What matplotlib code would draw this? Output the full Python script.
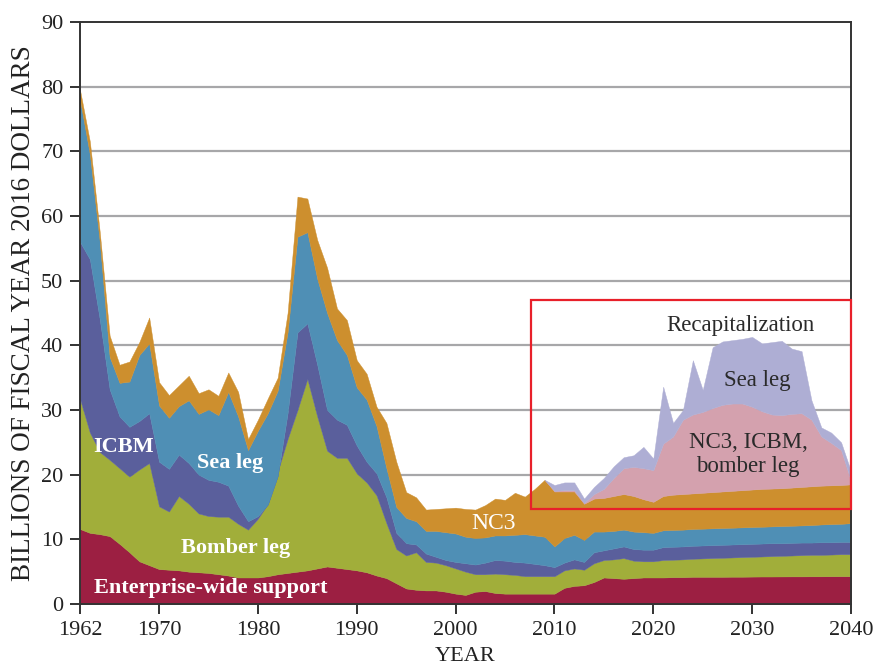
import matplotlib
matplotlib.use("Agg")
import matplotlib.pyplot as plt
from matplotlib.patches import Rectangle
import numpy as np

plt.rcParams['font.family'] = ['Liberation Serif', 'DejaVu Serif']

years = list(range(1962, 2041))

# cumulative top of each layer (billions FY2016 $)
enterprise_top = [11.6, 11.0, 10.8, 10.5, 9.3, 8.0, 6.6, 6.0, 5.4, 5.3,
                  5.2, 5.0, 4.9, 4.8, 4.6, 4.4, 4.1, 4.1, 4.1, 4.3,
                  4.6, 4.8, 5.0, 5.2, 5.5, 5.8, 5.6, 5.4, 5.2, 4.9,
                  4.4, 4.0, 3.2, 2.4, 2.2, 2.1, 2.1, 1.9, 1.6, 1.4,
                  1.9, 2.0, 1.7, 1.6, 1.6, 1.6, 1.6, 1.6, 1.6, 2.5,
                  2.8, 2.9, 3.4, 4.1, 4.0, 3.9, 4.0, 4.1, 4.1, 4.1,
                  4.15, 4.15, 4.2, 4.2, 4.2, 4.2, 4.22, 4.22, 4.24, 4.25,
                  4.25, 4.26, 4.27, 4.27, 4.28, 4.28, 4.29, 4.3, 4.3]
bomber_top = [31.7, 26.5, 23.5, 22.3, 21.0, 19.7, 20.8, 21.8, 15.1, 14.3,
              16.7, 15.5, 14.0, 13.6, 13.5, 13.5, 12.4, 11.5, 13.2, 15.5,
              20.5, 25.5, 30.0, 34.8, 29.0, 23.7, 22.6, 22.6, 20.2, 18.8,
              16.8, 12.5, 8.5, 7.5, 8.0, 6.5, 6.4, 6.0, 5.5, 5.0,
              4.6, 4.6, 4.7, 4.6, 4.5, 4.3, 4.3, 4.3, 4.3, 5.2,
              5.5, 5.3, 6.3, 6.8, 6.9, 7.1, 6.7, 6.6, 6.6, 6.8,
              6.85, 6.9, 7.0, 7.05, 7.1, 7.15, 7.2, 7.25, 7.3, 7.35,
              7.4, 7.45, 7.5, 7.55, 7.6, 7.6, 7.65, 7.7, 7.7]
icbm_top = [56.0, 53.3, 44.0, 33.2, 29.0, 27.4, 28.3, 29.5, 22.0, 20.9,
            23.1, 21.8, 20.0, 19.2, 18.9, 18.3, 15.2, 12.8, 13.6, 15.4,
            19.8, 29.5, 42.0, 43.4, 37.0, 30.0, 28.5, 27.7, 24.5, 22.0,
            20.2, 16.5, 11.0, 9.4, 9.2, 7.8, 7.3, 6.8, 6.5, 6.3,
            6.1, 6.4, 6.8, 6.7, 6.5, 6.4, 6.2, 6.0, 5.7, 6.4,
            6.9, 6.5, 8.0, 8.3, 8.6, 8.9, 8.5, 8.4, 8.4, 8.8,
            8.85, 8.9, 9.0, 9.05, 9.1, 9.15, 9.2, 9.25, 9.3, 9.35,
            9.4, 9.4, 9.45, 9.5, 9.5, 9.55, 9.55, 9.6, 9.6]
sea_top = [78.0, 69.5, 56.0, 38.2, 34.2, 34.4, 38.5, 40.3, 30.7, 28.8,
           30.6, 31.5, 29.4, 30.1, 29.2, 32.8, 29.0, 23.8, 26.8, 29.5,
           33.0, 42.0, 56.8, 57.5, 50.3, 45.0, 40.8, 38.5, 33.5, 31.6,
           27.5, 21.0, 15.0, 13.3, 12.8, 11.3, 11.3, 11.1, 10.9, 10.4,
           10.2, 10.3, 10.6, 10.6, 10.7, 10.8, 10.6, 10.4, 8.9, 10.2,
           10.7, 9.9, 11.2, 11.2, 11.3, 11.5, 11.2, 11.1, 11.0, 11.4,
           11.45, 11.5, 11.6, 11.65, 11.7, 11.75, 11.8, 11.85, 11.9, 11.95,
           12.0, 12.05, 12.1, 12.15, 12.2, 12.3, 12.35, 12.4, 12.5]
nc3_top = [79.5, 71.5, 57.5, 41.5, 37.0, 37.5, 40.5, 44.3, 34.3, 32.3,
           33.8, 35.3, 32.6, 33.2, 32.2, 35.8, 32.8, 25.5, 28.5, 31.8,
           35.0, 45.0, 63.0, 62.7, 56.3, 52.0, 45.7, 43.9, 37.7, 35.6,
           30.5, 28.0, 22.0, 17.3, 16.5, 14.6, 14.7, 14.8, 14.9, 14.7,
           14.6, 15.3, 16.3, 16.1, 17.2, 16.6, 17.8, 19.2, 17.4, 17.4,
           17.4, 15.5, 16.3, 16.4, 16.7, 17.0, 16.7, 16.2, 15.8, 16.7,
           16.9, 17.0, 17.1, 17.2, 17.3, 17.4, 17.5, 17.6, 17.7, 17.8,
           17.85, 17.9, 18.0, 18.1, 18.2, 18.3, 18.35, 18.4, 18.5]

recap_years = list(range(2009, 2041))
recap_nc3_icbm_bomber_top = [19.2, 17.5, 17.6, 17.6, 15.6, 17.0, 17.8, 19.5, 21.0, 21.2,
                             21.0, 20.7, 24.8, 25.9, 28.5, 29.3, 29.7, 30.3, 30.8, 31.0,
                             31.0, 30.5, 29.8, 29.3, 29.2, 29.4, 29.5, 28.5, 25.9, 24.9,
                             23.8, 19.0]
recap_sea_top = [19.2, 18.4, 18.8, 18.8, 16.3, 18.1, 19.5, 21.3, 22.7, 23.0,
                 24.3, 22.5, 33.6, 28.0, 30.0, 37.7, 33.1, 39.7, 40.6, 40.8,
                 41.0, 41.3, 40.3, 40.5, 40.7, 39.5, 39.1, 31.5, 27.3, 26.5,
                 25.0, 20.5]

x_ticks = [1962, 1970, 1980, 1990, 2000, 2010, 2020, 2030, 2040]
y_ticks = list(range(0, 91, 10))

c_ent = '#9C1F42'
c_bomb = '#A1AE3A'
c_icbm = '#5A5F9C'
c_sea = '#4F8FB5'
c_nc3 = '#CD8F2E'
c_rpink = '#D4A1AE'
c_rlav = '#AEAED4'

fig = plt.figure(figsize=(8.76, 6.71), dpi=100)
ax = fig.add_axes([80/876, 1-604/671, 771/876, 582/671])

yrs = np.array(years)
zero = np.zeros(len(years))
layers = [(zero, enterprise_top, c_ent), (enterprise_top, bomber_top, c_bomb),
          (bomber_top, icbm_top, c_icbm), (icbm_top, sea_top, c_sea),
          (sea_top, nc3_top, c_nc3)]
for lo, hi, c in layers:
    ax.fill_between(yrs, lo, hi, color=c, lw=0.3, ec=c, zorder=2)

ry = np.array(recap_years)
base = np.array(nc3_top)[yrs >= 2009]
ax.fill_between(ry, base, recap_nc3_icbm_bomber_top, color=c_rpink, lw=0.3, ec=c_rpink, zorder=2)
ax.fill_between(ry, recap_nc3_icbm_bomber_top, recap_sea_top, color=c_rlav, lw=0.3, ec=c_rlav, zorder=2)

for v in y_ticks[1:-1]:
    ax.axhline(v, color='#A7A7A9', lw=1.6, zorder=1)

ax.set_xlim(1962, 2040)
ax.set_ylim(0, 90)
ax.set_xticks(x_ticks)
ax.set_yticks(y_ticks)
ax.tick_params(direction='out', length=7, width=1.3, color='#222222', labelsize=16,
               labelcolor='#222222', pad=5)
for s in ax.spines.values():
    s.set_color('#333333')
    s.set_linewidth(1.4)
    s.set_zorder(5)

ax.set_xlabel('YEAR', fontsize=16, color='#222222', labelpad=5)
ax.set_ylabel('BILLIONS OF FISCAL YEAR 2016 DOLLARS', fontsize=19.5, color='#222222', labelpad=4)

wb = dict(color='white', fontweight='bold', fontsize=16, ha='center', va='center', zorder=4)
ax.text(1966.45, 24.3, 'ICBM', **wb)
ax.text(1977.2, 21.8, 'Sea leg', **wb)
ax.text(1977.7, 8.7, 'Bomber leg', **wb)
ax.text(1975.25, 2.5, 'Enterprise-wide support', **wb)
ax.text(2003.8, 12.5, 'NC3', color='white', fontsize=17, ha='center', va='center', zorder=4)

dk = dict(color='#2a2a2a', fontsize=16.5, ha='center', va='center', zorder=4)
ax.text(2028.8, 43.1, 'Recapitalization', **dk)
ax.text(2030.5, 34.5, 'Sea leg', **dk)
ax.text(2029.6, 25.0, 'NC3, ICBM,', **dk)
ax.text(2029.6, 21.3, 'bomber leg', **dk)

ax.add_patch(Rectangle((2007.6, 14.7), 2040 - 2007.6 - 0.05, 47.0 - 14.7, fill=False,
                       ec='#E8202A', lw=1.6, zorder=6, clip_on=False))

fig.savefig('out.png', dpi=100)
